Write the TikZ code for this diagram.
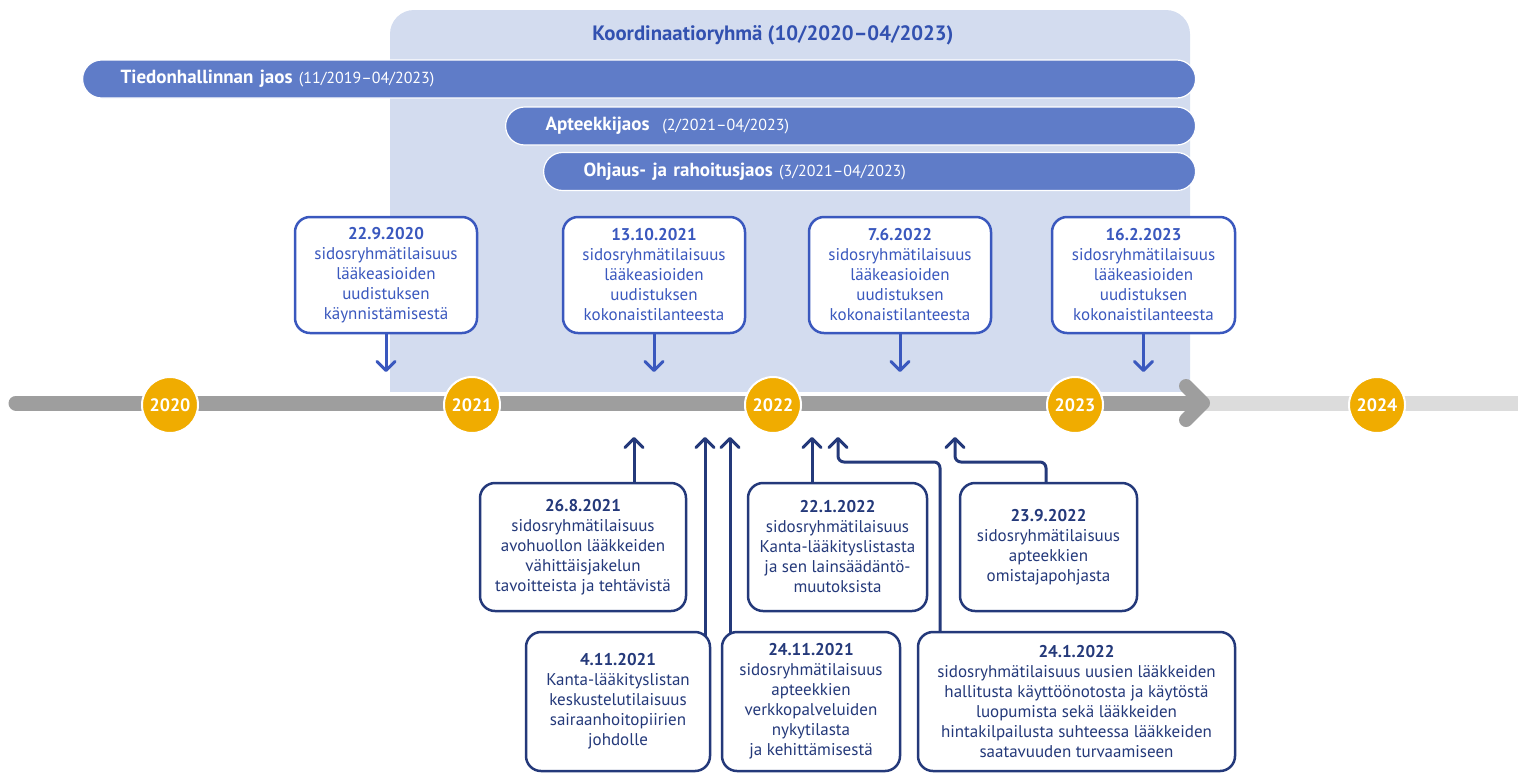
\documentclass[tikz,border=0pt]{standalone}
\usepackage{fontspec}
\setmainfont{PT Sans}
\usetikzlibrary{arrows.meta,calc}
\definecolor{bgblue}{HTML}{D3DCEF}
\definecolor{barblue}{HTML}{5F7CC8}
\definecolor{titleblue}{HTML}{3251B0}
\definecolor{upblue}{HTML}{3A58BE}
\definecolor{navy}{HTML}{24397A}
\definecolor{gold}{HTML}{F0AC00}
\definecolor{tlgray}{HTML}{9E9E9E}
\definecolor{tllight}{HTML}{DCDCDC}
\pgfdeclarelayer{bglayer}
\pgfdeclarelayer{connlayer}
\pgfsetlayers{bglayer,connlayer,main}
\begin{document}
\begin{tikzpicture}[x=0.5pt,y=-0.5pt,
  bodyfont/.style={font=\fontsize{8.5}{10}\selectfont},
  upbox/.style={draw=upblue, line width=1.25pt, fill=white, rounded corners=7.5pt,
    text=upblue, align=center, inner sep=0pt, bodyfont},
  lowbox/.style={draw=navy, line width=1.25pt, fill=white, rounded corners=7.5pt,
    text=navy, align=center, inner sep=0pt, bodyfont},
  bar/.style={fill=barblue, draw=white, line width=0.6pt, rounded corners=9.5pt,
    text=white, align=left, minimum height=19pt, inner ysep=0pt, anchor=west,
    font=\fontsize{9.5}{11}\selectfont},
  yearnode/.style={circle, fill=gold, draw=white, line width=1pt, minimum size=28pt,
    inner sep=0pt, text=white, font=\bfseries\fontsize{9}{10}\selectfont},
  uparr/.style={draw=upblue, line width=1.5pt, -{Straight Barb[length=4.5pt,width=9pt,round]}},
  lowarr/.style={draw=navy, line width=1.5pt, rounded corners=3pt,
    -{Straight Barb[length=4.5pt,width=9pt,round]}},
  datesmall/.style={font=\fontsize{8}{9}\selectfont}
]
\useasboundingbox (0,0) rectangle (1518,772);

% coordination background
\begin{pgfonlayer}{bglayer}
\begin{scope}
\clip (0,0) rectangle (1518,391);
\fill[bgblue, rounded corners=12pt] (390,10) rectangle (1190,460);
\end{scope}
\end{pgfonlayer}

\node[text=titleblue, font=\bfseries\fontsize{10.4}{12}\selectfont] (koord) at (773,35)
  {Koordinaatioryhmä (10/2020–04/2023)};

% bars
\node[bar, text width=518.5pt, inner xsep=19pt] (tied) at (82,79)
  {\textbf{Tiedonhallinnan jaos} {\fontsize{8}{9}\selectfont(11/2019–04/2023)}};
\node[bar, text width=305pt, inner xsep=20pt] (aptj) at (505,126)
  {\textbf{Apteekkijaos}\ \ {\fontsize{8}{9}\selectfont(2/2021–04/2023)}};
\node[bar, text width=286pt, inner xsep=20pt] (ohj) at (543,171.5)
  {\textbf{Ohjaus- ja rahoitusjaos} {\fontsize{8}{9}\selectfont(3/2021–04/2023)}};

% timeline
\draw[tllight, line width=7.5pt] (1190,403) -- (1518,403);
\draw[white, line width=9pt, line cap=round] (16,403) -- (1195,403);
\draw[tlgray, line width=7.5pt, line cap=round] (16,403) -- (1195,403);
\draw[tlgray, line width=7pt, line cap=round, line join=round] (1186,386) -- (1203,403) -- (1186,420);

\node[yearnode] (y2020) at (170,405) {2020};
\node[yearnode] (y2021) at (472,405) {2021};
\node[yearnode] (y2022) at (773,405) {2022};
\node[yearnode] (y2023) at (1075,405) {2023};
\node[yearnode] (y2024) at (1377,405) {2024};

% upper boxes
\node[upbox, minimum width=91pt, minimum height=58pt] (U1) at (386,275)
  {\textbf{22.9.2020}\\sidosryhmätilaisuus\\lääkeasioiden\\uudistuksen\\käynnistämisestä};
\node[upbox, minimum width=91pt, minimum height=58pt] (U2) at (654,275)
  {\textbf{13.10.2021}\\sidosryhmätilaisuus\\lääkeasioiden\\uudistuksen\\kokonaistilanteesta};
\node[upbox, minimum width=91pt, minimum height=58pt] (U3) at (900,275)
  {\textbf{7.6.2022}\\sidosryhmätilaisuus\\lääkeasioiden\\uudistuksen\\kokonaistilanteesta};
\node[upbox, minimum width=91.5pt, minimum height=58pt] (U4) at (1143.5,275)
  {\textbf{16.2.2023}\\sidosryhmätilaisuus\\lääkeasioiden\\uudistuksen\\kokonaistilanteesta};

% lower boxes
\node[lowbox, minimum width=103pt, minimum height=64pt] (L1) at (583,547)
  {\textbf{26.8.2021}\\sidosryhmätilaisuus\\avohuollon lääkkeiden\\vähittäisjakelun\\tavoitteista ja tehtävistä};
\node[lowbox, minimum width=89.5pt, minimum height=64pt] (L2) at (837.5,547)
  {\textbf{22.1.2022}\\sidosryhmätilaisuus\\Kanta-lääkityslistasta\\ja sen lainsäädäntö-\\muutoksista};
\node[lowbox, minimum width=88.5pt, minimum height=64pt] (L3) at (1048.5,547)
  {\textbf{23.9.2022}\\sidosryhmätilaisuus\\apteekkien\\omistajapohjasta};
\node[lowbox, minimum width=92pt, minimum height=69.5pt] (L4) at (618,701.5)
  {\textbf{4.11.2021}\\Kanta-lääkityslistan\\keskustelutilaisuus\\sairaanhoitopiirien\\johdolle};
\node[lowbox, minimum width=89pt, minimum height=69.5pt] (L5) at (811,701.5)
  {\textbf{24.11.2021}\\sidosryhmätilaisuus\\apteekkien\\verkkopalveluiden\\nykytilasta\\ja kehittämisestä};
\node[lowbox, minimum width=158.5pt, minimum height=69.5pt] (L6) at (1076.5,701.5)
  {\textbf{24.1.2022}\\sidosryhmätilaisuus uusien lääkkeiden\\hallitusta käyttöönotosta ja käytöstä\\luopumista sekä lääkkeiden\\hintakilpailusta suhteessa lääkkeiden\\saatavuuden turvaamiseen};

% connector end points
\coordinate (ua1) at (386,372);
\coordinate (ua2) at (654,372);
\coordinate (ua3) at (900,372);
\coordinate (ua4) at (1143.5,372);
\coordinate (la1) at (634,437);
\coordinate (la4) at (705,437);
\coordinate (la5) at (730,437);
\coordinate (la2) at (812,437);
\coordinate (la6) at (838,437);
\coordinate (k6) at (940,462);
\coordinate (la3) at (955,437);
\coordinate (k3) at (1046,462);

\begin{pgfonlayer}{connlayer}
\draw[uparr] (U1.south) -- (ua1);
\draw[uparr] (U2.south) -- (ua2);
\draw[uparr] (U3.south) -- (ua3);
\draw[uparr] (U4.south) -- (ua4);
\draw[lowarr] (L1.center -| la1) -- (la1);
\draw[lowarr] (L4.center -| la4) -- (la4);
\draw[lowarr] (L5.center -| la5) -- (la5);
\draw[lowarr] (L2.center -| la2) -- (la2);
\draw[lowarr] (L6.center -| k6) -- (k6) -- (k6 -| la6) -- (la6);
\draw[lowarr] (L3.center -| k3) -- (k3) -- (k3 -| la3) -- (la3);
\end{pgfonlayer}
\end{tikzpicture}
\end{document}
